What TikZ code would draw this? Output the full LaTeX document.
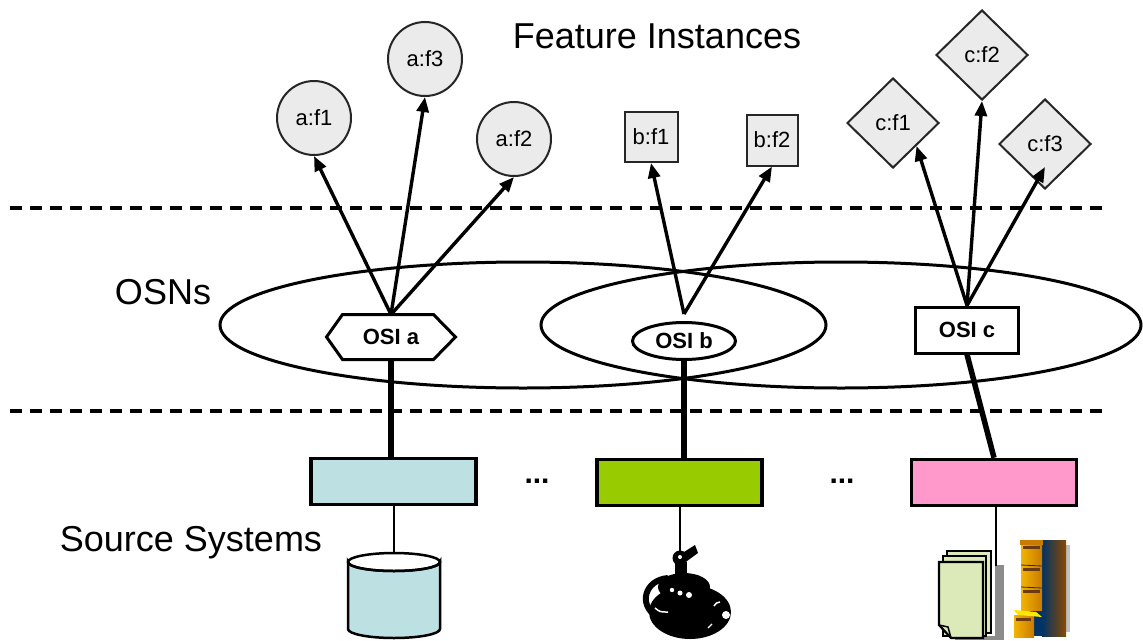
\documentclass[tikz,border=0pt]{standalone}
\usepackage{fontspec}
\setmainfont{Liberation Sans}
\usetikzlibrary{shapes.geometric,arrows.meta}

\definecolor{featgray}{HTML}{EBEBEB}
\definecolor{dbblue}{HTML}{BDE0E3}
\definecolor{srcgreen}{HTML}{99CC00}
\definecolor{srcpink}{HTML}{FF99CC}
\definecolor{papergreen}{HTML}{DCE9B8}
\definecolor{shadowgray}{HTML}{8C8C8C}
\definecolor{cabgoldA}{HTML}{F2B400}
\definecolor{cabgoldB}{HTML}{C97A00}
\definecolor{cabblue}{HTML}{003366}
\definecolor{cabbrown}{HTML}{8A4A00}
\definecolor{cabhandle}{HTML}{6B3A10}

\begin{document}
\begin{tikzpicture}[x=1pt,y=-1pt,
  bigtext/.style={font=\fontsize{36}{40}\selectfont},
  feat/.style={draw=black!85, line width=2pt, fill=featgray, inner sep=0pt,
               font=\fontsize{22}{24}\selectfont},
  featcirc/.style={feat, circle, minimum size=74pt},
  featsq/.style={feat, rectangle, minimum width=53pt, minimum height=50pt},
  featdia/.style={feat, diamond, minimum width=92pt, minimum height=90pt},
  osi/.style={font=\bfseries\fontsize{22}{24}\selectfont, inner sep=0pt,
              line width=3pt, fill=white},
  srcbox/.style={draw=black, line width=3.5pt, minimum width=165pt, minimum height=46pt},
  arr/.style={line width=3.4pt, -{Triangle[length=15pt, width=12pt]}},
  layer/.style={line width=4pt, dash pattern=on 12pt off 8pt},
  osn/.style={line width=3pt},
  feed/.style={line width=5.5pt},
  thinlink/.style={line width=2.5pt},
]
\useasboundingbox (0,0) rectangle (1143,640);

% ---- layer separators and captions ----
\coordinate (l1a) at (10,208);  \coordinate (l1b) at (1108,208);
\coordinate (l2a) at (10,411);  \coordinate (l2b) at (1108,411);
\draw[layer] (l1a) -- (l1b);
\draw[layer] (l2a) -- (l2b);

\node[bigtext] (title) at (657,36) {Feature Instances};
\node[bigtext] (osns) at (163,292) {OSNs};
\node[bigtext] (srcsys) at (191,543) {Source Systems};

% ---- two overlapping overlay networks ----
\draw[osn] (523,325) ellipse [x radius=303, y radius=63];
\draw[osn] (841,325) ellipse [x radius=300, y radius=63];

% ---- overlay service instances ----
\node[osi, minimum width=126pt, minimum height=42pt] (osia) at (391,337) {OSI a};
\filldraw[line width=3pt, fill=white]
  (osia.west) -- ([xshift=16pt]osia.north west) -- ([xshift=-22pt]osia.north east)
  -- (osia.east) -- ([xshift=-22pt]osia.south east) -- ([xshift=16pt]osia.south west) -- cycle;
\node[font=\bfseries\fontsize{22}{24}\selectfont] at (osia) {OSI a};

\node[osi, draw, ellipse, minimum width=103pt, minimum height=37pt] (osib) at (684,341) {OSI b};
\node[osi, draw, rectangle, minimum width=103pt, minimum height=46pt] (osic) at (967,330) {OSI c};

% ---- feature instances ----
\node[featcirc] (af1) at (314,118) {a:f1};
\node[featcirc] (af3) at (425,59)  {a:f3};
\node[featcirc] (af2) at (514,139) {a:f2};

\node[featsq] (bf1) at (651,137) {b:f1};
\node[featsq, minimum width=51pt, minimum height=51pt] (bf2) at (772,140) {b:f2};

\node[featdia] (cf1) at (893,123) {c:f1};
\node[featdia] (cf2) at (982,55)  {c:f2};
\node[featdia] (cf3) at (1045,144) {c:f3};

% ---- instance arrows ----
\coordinate (bsrc) at ([yshift=7pt]osib.north);
\coordinate (cf3tip) at ([yshift=-23pt]cf3.center);
\draw[arr] (osia.north) -- (af1.south);
\draw[arr] (osia.north) -- (af3.south);
\draw[arr] (osia.north) -- (af2.south);
\draw[arr] (bsrc) -- (bf1.south);
\draw[arr] (bsrc) -- (bf2.south);
\draw[arr] (osic.north) -- (cf1.south east);
\draw[arr] (osic.north) -- (cf2.south);
\draw[arr] (osic.north) -- (cf3tip);

% ---- source systems ----
\node[srcbox, fill=dbblue]    (src1) at (393.5,481.5) {};
\node[srcbox, fill=srcgreen]  (src2) at (679.5,482.5) {};
\node[srcbox, fill=srcpink]   (src3) at (994,482.5) {};
\node[font=\bfseries\fontsize{30}{32}\selectfont] (dots1) at (537,481) {...};
\node[font=\bfseries\fontsize{30}{32}\selectfont] (dots2) at (842,481) {...};

\draw[feed] (osia.south) -- (osia.south |- src1.north);
\draw[feed] (osib.south) -- (osib.south |- src2.north);
\draw[feed] (osic.south) -- (src3.north);

% ---- database ----
\coordinate (dbtop) at (394,553);
\filldraw[fill=dbblue, line width=2.5pt]
  (348,562) -- (348,629) arc[start angle=180, end angle=0, x radius=46, y radius=9]
  -- (440,562) arc[start angle=0, end angle=180, x radius=46, y radius=9] -- cycle;
\draw[line width=2.5pt] (394,562) ellipse [x radius=46, y radius=9];
\draw[thinlink] (src1.south -| dbtop) -- (dbtop);

% ---- camera ----
\coordinate (camtop) at (680,551);
\fill[black] (690,612) ellipse [x radius=41, y radius=27];
\fill[black] (684,587) ellipse [x radius=26, y radius=14];
\draw[black, line width=6pt] (668,578) .. controls (645,580) and (638,604) .. (656,616);
\fill[black] (680,558) circle (7.5);
\fill[black] (675,562) rectangle (687,580);
\fill[black] (684,552) -- (695,545) -- (698,553) -- (687,561) -- cycle;
\fill[white] (680,557) circle (2);
\fill[white] (672,590) circle (2.2);
\fill[white] (680,593) circle (2.5);
\fill[white] (689,595) circle (3);
\fill[white] (726,615) circle (4);
\draw[white, line width=1.5pt] (655,608) .. controls (660,612) .. (668,612);
\draw[white, line width=1.5pt] (714,606) .. controls (716,603) .. (720,602);
\draw[white, line width=1.2pt] (708,628) -- (712,624);
\draw[thinlink] (src2.south -| camtop) -- (camtop);

% ---- documents ----
\coordinate (doctop) at (996,566);
\fill[shadowgray] (995,565) rectangle (1004,640);
\fill[shadowgray] (955,636) rectangle (1004,640);
\filldraw[fill=papergreen, line width=2.2pt] (947,551) rectangle (991,633);
\filldraw[fill=papergreen, line width=2.2pt] (943,556) rectangle (986,636);
\filldraw[fill=papergreen, line width=2.2pt]
  (939,562) -- (983,562) -- (983,638) -- (951,638) -- (939,625) -- cycle;
\draw[line width=1.5pt] (939,625) -- (948,627) -- (951,638);
\draw[thinlink] (src3.south -| doctop) -- (doctop);

% ---- filing cabinet ----
\fill[gray!50] (1066,545) rectangle (1070,632);
\shade[left color=cabblue, right color=cabbrown] (1042,540) rectangle (1066,636);
\shade[left color=cabgoldA, right color=cabgoldB] (1021,540) rectangle (1042,611);
\fill[cabgoldB] (1020,540) rectangle (1043,545);
\fill[cabhandle] (1023,546) rectangle (1040,549);
\draw[cabblue, line width=0.8pt] (1021,565) -- (1042,566);
\fill[cabhandle] (1023,568) rectangle (1040,571);
\draw[cabblue, line width=0.8pt] (1021,587) -- (1042,588);
\fill[cabhandle] (1023,590) rectangle (1040,593);
\fill[cabblue] (1030,611) rectangle (1042,636);
\shade[left color=cabgoldA, right color=cabgoldB] (1014,615) rectangle (1034,637);
\fill[yellow!90!orange] (1014,610) -- (1036,612) -- (1042,617) -- (1018,615) -- cycle;
\fill[cabhandle] (1016,618) rectangle (1031,621);
\end{tikzpicture}
\end{document}
